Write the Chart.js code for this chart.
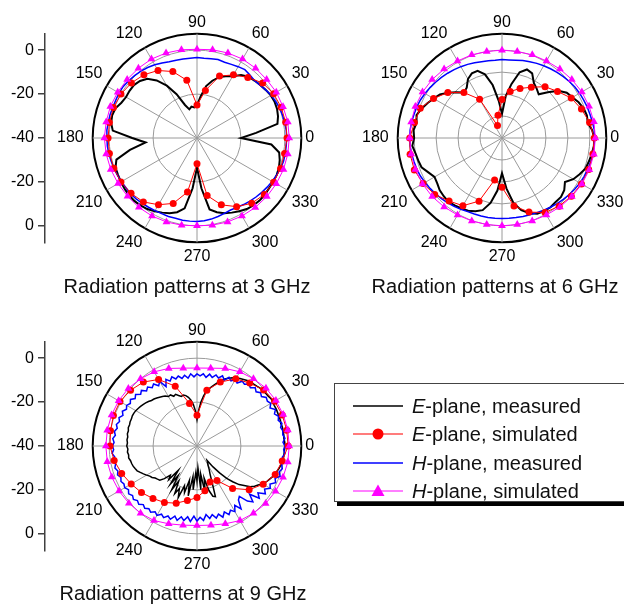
<!DOCTYPE html>
<html>
<head>
<meta charset="utf-8">
<script src="https://cdn.jsdelivr.net/npm/chart.js@4.4.1/dist/chart.umd.min.js"></script>
<style>
  body { margin: 0; background: #fff; }
  #page { position: relative; width: 624px; height: 605px; overflow: hidden; font-family: "Liberation Sans", Arial, sans-serif; }
  canvas { position: absolute; }
  .title { position: absolute; width: 300px; text-align: center; font-size: 20px; line-height: 24px; color: #111; }
  #legend { position: absolute; left: 334px; top: 383px; width: 310px; height: 117px; border: 1px solid #444; box-shadow: 3px 4px 0 #000; background: #fff; }
  .row { position: absolute; left: 17px; height: 24px; line-height: 24px; font-size: 20px; color: #111; white-space: nowrap; }
  .row svg { position: absolute; left: 0; top: 0; }
  .row span { position: absolute; left: 60px; top: 0; }
</style>
</head>
<body>
<div id="page">
  <canvas id="axis3" width="50" height="280"></canvas>
  <canvas id="axis9" width="50" height="280"></canvas>
  <canvas id="polar3" width="280" height="280"></canvas>
  <canvas id="polar6" width="280" height="280"></canvas>
  <canvas id="polar9" width="280" height="280"></canvas>
  <div class="title" style="left:37px;top:274px">Radiation patterns at 3 GHz</div>
  <div class="title" style="left:345px;top:274px">Radiation patterns at 6 GHz</div>
  <div class="title" style="left:33px;top:581px">Radiation patterns at 9 GHz</div>
  <div id="legend"></div>
</div>
<script>
// radial range in dB, rings and the left axis ticks
const R_MIN = -40;
const R_MAX = 7.5;
const RINGS_COARSE = [-40, -20, 0, 7.5];
const RINGS_FINE = [-40, -30, -20, -10, 0, 7.5];
const AXIS_TICKS = [-40, -20, 0, 20, 40];
const ANGLE_LABEL_STEP = 30;
const SIM_STEP = 10;

const SERIES_NAMES = ['E-plane, measured', 'E-plane, simulated', 'H-plane, measured', 'H-plane, simulated'];

// 3 GHz, measured every 5 deg (0..355), simulated every 10 deg (0..350)
const E_MEAS_3 = [-20, -13, -2.8, -1.8, -1.2, -1, -1.2, -1.8, -2.4, -3,
  -3.5, -5, -7.5, -9, -10.5, -13, -16, -21, -25, -26,
  -25.5, -26.5, -24, -18, -12.5, -8, -4.8, -3.3, -2.5, -2.5,
  -2.7, -2, -0.5, 0, -0.3, -1.5, -10.5, -16.5, -9, -2,
  -0.5, -0.3, 0, 0.3, 0.5, 0.5, 0, -0.5, -1.5, -2.5,
  -3.5, -5, -7.5, -17, -26.5, -17, -7, -5, -3.5, -2.5,
  -1.5, -0.5, 0, 0.3, 0.3, 0, 0, 0, -0.3, -1, -2, -6];
const E_SIM_3 = [1, 1, 0.8, 0.3, -1, -4, -6.8, -10, -18, -25,
  -13.3, -7.8, -4.5, -2.4, -1, 0, 0.5, 0.5, 0.5, 0.5,
  0.3, 0, -0.8, -2, -4.9, -8.3, -15, -28.3, -13.4, -7.6,
  -3.9, -1.2, 0, 0.3, 0.5, 0.5];
const H_MEAS_3 = [0.8, 0.8, 0.5, 0.3, 0, -0.5, -1, -1.8, -2.5, -3,
  -2.5, -2, -2.5, -3, -3.3, -3, -3.3, -3.5, -3.3, -3.5,
  -3.5, -3.3, -3, -2.3, -1.5, -0.8, -0.3, 0.2, 0.6, 1,
  1, 0.8, 0.8, 1, 1, 1.2, 1, 1, 0.8, 0.5,
  0.3, 0, -0.3, -0.5, -0.5, -0.8, -1.2, -1.5, -1.8, -2,
  -2, -2.2, -2, -2, -2, -2.2, -2.5, -3, -3.5, -3.8,
  -3.5, -3, -2.5, -2, -1.5, -1, -0.5, 0, 0.5, 0.8, 0.8, 0.8];
const H_SIM_3 = [2, 2, 1.7, 1.7, 1.4, 1.5, 1.5, 1.2, 0.8, 0.4,
  0.8, 1.2, 1.5, 1.5, 1.5, 1.7, 2, 2, 2.2, 2,
  1.8, 1.5, 1.3, 1.2, 1, 0.7, 0.3, 0, 0.3, 0.7,
  1, 1.3, 1.5, 1.7, 1.9, 2];

// 6 GHz
const E_MEAS_6 = [2, 1.2, -0.3, 0, -0.5, -1.5, -3, -4, -6.5, -10.5,
  -14, -12.5, -11, -7.5, -6.8, -9, -15, -21, -29, -23,
  -15.5, -10, -7.5, -7.5, -9, -12, -13, -10.5, -8, -5.5,
  -4, -2.5, -1, 0.3, -0.5, 0.5, 0, 1, 0, -0.5,
  -1, -3, -4.5, -4, -3, -2.5, -2, -2.5, -3, -3.5,
  -4.5, -6, -10, -16, -24, -17, -10, -6, -3.5, -2,
  -1.5, -1.5, -2, -2, -3, -5, -2.5, -1, 0.5, 1, 1.5, 2];
const E_SIM_6 = [2, 0.5, -1.5, -3.6, -7, -9.5, -13.3, -16, -18.5, -22.5,
  -29.5, -34, -19.6, -13, -7.8, -4, -0.4, 0.5, 2, 2.5,
  2.5, 1.5, 0, -2.5, -4.4, -9.4, -20.6, -17.6, -8.6, -4.1,
  -0.8, 0.5, 1.2, 1.8, 2, 2];
const H_MEAS_6 = [2, 2.2, 1.8, 1.5, 1.3, 1, 0.8, 0.5, 0, -0.5,
  -1, -1.5, -2, -2.5, -3, -3.5, -4, -4.3, -4.3, -4.5,
  -4.3, -4, -3.5, -3, -2.5, -2, -1.5, -1, -0.5, 0,
  0.5, 1, 1.3, 1.5, 1.8, 2, 2, 2, 1.8, 1.5,
  1.3, 1, 0.5, 0, -0.5, -1, -1.5, -2, -2.5, -3,
  -3.2, -3.2, -3.2, -3.3, -3.3, -3.3, -3.2, -3, -2.8, -2.5,
  -2, -1.5, -1, -0.5, 0, 0.5, 1, 1.3, 1.5, 1.8, 2, 2];
const H_SIM_6 = [2.5, 2.5, 2.2, 2, 1.5, 1, 0.5, 0.3, 0, 0,
  0, 0.3, 0.5, 1, 1.5, 1.8, 2, 2, 2, 2,
  2, 1.8, 1.5, 1, 0.5, 0.2, 0, 0, 0, 0.2,
  0.5, 1, 1.5, 2, 2.3, 2.5];

// 9 GHz, measured every 2.5 deg (0..357.5)
const E_MEAS_9 = [0, 0, -0.3, -0.2, -0.3, -0.2, -0.5, -0.3, -0.4, -0.3, -0.2, -0.3,
  -0.2, 0, -0.4, -0.6, -0.8, -1, -1.5, -1.8, -2, -2.4, -3, -3.6,
  -4.3, -5, -6, -7, -8.5, -10, -11.5, -13, -14.5, -17, -20, -24,
  -28, -24, -21, -19, -17.5, -16.5, -16, -16.3, -15.5, -14.5, -15, -13.8,
  -14, -13, -12.5, -12, -11.5, -11, -10.7, -10, -9.5, -9, -8.6, -8.2,
  -7.8, -7.6, -7.5, -7.7, -7.6, -7.8, -7.6, -8, -7.8, -8.2, -8, -8.3,
  -8, -8.5, -8.2, -8.6, -8.4, -9, -9.2, -9.5, -10, -10.5, -11.5, -12.5,
  -13.5, -14.5, -15, -16, -16.5, -17, -19, -22, -20, -26, -19, -24,
  -17, -22, -16, -19, -15, -21, -18, -24, -17, -26, -20, -28,
  -24, -30, -20, -27, -18, -25, -19, -16, -15.5, -22, -26, -28,
  -30, -31, -32, -28, -24, -20, -17, -14, -12, -9.5, -8, -7,
  -5.5, -4.5, -3.8, -3, -2.3, -1.8, -1.2, -0.8, -0.5, -0.3, -0.2, -0.1];
const E_SIM_9 = [1.5, 1.5, 1.3, 0.8, -0.4, -2.6, -4.7, -9, -14.2, -26,
  -20.3, -11, -5, -2, -0.5, 0.5, 0.5, 0, -0.4, -1.7,
  -3.5, -5.4, -7, -8.8, -10.3, -12.3, -14.8, -16.5, -19.3, -22.6,
  -21.8, -14.8, -9, -5.2, -2.1, -0.6];
const H_MEAS_9 = [0, -0.8, 0.2, -0.6, -0.3, -1, 0, -1.2, -0.5, -1.8, -0.6, -2.5,
  -1.2, -2, -1.5, -3, -2.2, -3.5, -2.5, -4, -3.2, -4.5, -4, -6,
  -5, -6.5, -5.5, -7.5, -6, -7.5, -6.5, -8, -6.8, -8.5, -7, -8,
  -7.2, -8.5, -7, -8.8, -7.3, -8.5, -7, -8, -6.5, -8, -6.5, -9.5,
  -6, -7.5, -5.5, -6.5, -5, -6, -4.2, -5.2, -3.5, -4.5, -3, -4,
  -3, -3.8, -2.5, -3.5, -2.2, -3, -2, -2.8, -1.8, -2.5, -1.5, -2.2,
  -1.5, -2, -1.2, -2.2, -1.5, -2, -1.3, -2.2, -1.5, -2.5, -1.8, -2.5,
  -2, -3, -2, -3, -2.2, -3.2, -2.5, -3.8, -3, -4, -3.2, -4.5,
  -3.5, -5, -4, -5.5, -4.5, -6.5, -5, -7, -5.5, -7.5, -5.5, -8,
  -5.8, -7.5, -6, -8.5, -6.5, -8, -6, -7.5, -5.5, -7.5, -5.5, -7,
  -5.5, -8, -5, -9, -10, -6, -4, -7.5, -3, -5, -2, -3.5,
  -1.5, -2.5, -0.5, -1.5, 0.3, -0.8, 0.2, -0.5, 0, -0.8, 0.2, -0.5];
const H_SIM_9 = [2, 2, 1.8, 1.5, 1, 0, -1, -2.4, -4, -4.5,
  -4, -2.4, -1, 0, 0.8, 1.2, 1.4, 1.5, 1.5, 1.5,
  1.3, 1, 0.5, 0, -0.8, -2.3, -3.4, -3.8, -3.4, -2.3,
  -0.8, 0, 0.8, 1.3, 1.7, 2];

const FONT = 'Liberation Sans, Arial, sans-serif';
const COLORS = ['#000000', '#ff0000', '#0000ff', '#ff00ff'];
const GRID = '#9a9a9a';

function buildPolar(id, step, eMeas, eSim, hMeas, hSim, rings, blackWidth) {
    const labels = [];
    for (let i = 0; i < 360 / step; i++) labels.push((450 - i * step) % 360);
    const meas = arr => labels.map(a => arr[Math.round(a / step)]);
    const sim = arr => labels.map(a => (a % SIM_STEP === 0 ? arr[a / SIM_STEP] : null));

    return new Chart(document.getElementById(id), {
        type: 'radar',
        data: {
            labels: labels,
            datasets: [
                { label: SERIES_NAMES[0], data: meas(eMeas), borderColor: COLORS[0], borderWidth: blackWidth, pointRadius: 0, fill: false, order: 4 },
                { label: SERIES_NAMES[1], data: sim(eSim), borderColor: COLORS[1], borderWidth: 1, pointRadius: 3.5,
                  pointBackgroundColor: COLORS[1], pointBorderWidth: 0, spanGaps: true, fill: false, order: 2 },
                { label: SERIES_NAMES[2], data: meas(hMeas), borderColor: COLORS[2], borderWidth: 1.5, pointRadius: 0, fill: false, order: 3 },
                { label: SERIES_NAMES[3], data: sim(hSim), borderColor: COLORS[3], borderWidth: 1, pointRadius: 4.5, pointStyle: 'triangle',
                  pointBackgroundColor: COLORS[3], pointBorderWidth: 0, spanGaps: true, fill: false, order: 1 }
            ]
        },
        options: {
            responsive: false,
            animation: false,
            devicePixelRatio: 1,
            layout: { padding: 0 },
            elements: { line: { tension: 0 } },
            plugins: { legend: { display: false }, tooltip: { enabled: false } },
            scales: {
                r: {
                    min: R_MIN,
                    max: R_MAX,
                    afterBuildTicks: s => { s.ticks = rings.map(v => ({ value: v })); },
                    ticks: { display: false },
                    grid: {
                        circular: true,
                        color: c => (c.tick && c.tick.value === R_MAX ? '#000' : GRID),
                        lineWidth: c => (c.tick && c.tick.value === R_MAX ? 2 : 1)
                    },
                    angleLines: {
                        color: c => (c.label !== '' ? GRID : 'rgba(0,0,0,0)'),
                        lineWidth: c => (c.label !== '' ? 1 : 0)
                    },
                    pointLabels: {
                        callback: v => (v % ANGLE_LABEL_STEP === 0 ? String(v) : ''),
                        font: { family: FONT, size: 16 },
                        color: '#000',
                        padding: c => (c.label === '90' ? 2 : c.label === '180' ? 9 : c.label === '0' ? 4 : 5)
                    }
                }
            }
        }
    });
}

function buildAxis(id, radius) {
    return new Chart(document.getElementById(id), {
        type: 'scatter',
        data: { datasets: [] },
        options: {
            responsive: false,
            animation: false,
            devicePixelRatio: 1,
            layout: { padding: { top: 140 - radius, bottom: 140 - radius, left: 0, right: 0 } },
            plugins: { legend: { display: false }, tooltip: { enabled: false } },
            scales: {
                x: { display: false, min: 0, max: 1 },
                y: {
                    min: -(R_MAX - R_MIN),
                    max: R_MAX - R_MIN,
                    afterBuildTicks: s => { s.ticks = AXIS_TICKS.map(v => ({ value: v })); },
                    afterFit: s => { s.width = 45; },
                    ticks: { callback: v => String(Math.abs(v) + R_MIN), font: { family: FONT, size: 16 }, color: '#000', padding: 4 },
                    grid: { drawOnChartArea: false, tickLength: 7, color: '#404040', lineWidth: 1.5 },
                    border: { color: '#404040', width: 1.5 }
                }
            }
        }
    });
}

// place a polar chart so its centre lands on (cx, cy)
function place(chart, cx, cy) {
    const r = chart.scales.r;
    chart.canvas.style.left = (cx - r.xCenter) + 'px';
    chart.canvas.style.top = (cy - r.yCenter) + 'px';
    return r;
}

const p3 = buildPolar('polar3', 5, E_MEAS_3, E_SIM_3, H_MEAS_3, H_SIM_3, RINGS_COARSE, 2);
const p6 = buildPolar('polar6', 5, E_MEAS_6, E_SIM_6, H_MEAS_6, H_SIM_6, RINGS_FINE, 2);
const p9 = buildPolar('polar9', 2.5, E_MEAS_9, E_SIM_9, H_MEAS_9, H_SIM_9, RINGS_COARSE, 1.5);
const r3 = place(p3, 197, 138);
place(p6, 502, 138);
const r9 = place(p9, 197, 446);

const a3 = document.getElementById('axis3');
a3.style.left = '0px'; a3.style.top = (138 - 140) + 'px';
buildAxis('axis3', r3.drawingArea);
const a9 = document.getElementById('axis9');
a9.style.left = '0px'; a9.style.top = (446 - 140) + 'px';
buildAxis('axis9', r9.drawingArea);

// legend
const legend = document.getElementById('legend');
SERIES_NAMES.forEach((name, i) => {
    const row = document.createElement('div');
    row.className = 'row';
    row.style.top = (10 + i * 28.3) + 'px';
    let marker = '';
    if (i === 1) marker = '<circle cx="26" cy="12" r="5.5" fill="' + COLORS[1] + '"/>';
    if (i === 3) marker = '<polygon points="26,5.5 32.5,17 19.5,17" fill="' + COLORS[3] + '"/>';
    const lineColor = i === 1 ? '#ff5050' : i === 3 ? '#ff55ff' : COLORS[i];
    row.innerHTML = '<svg width="52" height="24"><line x1="1" y1="12" x2="51" y2="12" stroke="' + lineColor +
        '" stroke-width="1.5"/>' + marker + '</svg><span><i>' + name[0] + '</i>' + name.slice(1) + '</span>';
    legend.appendChild(row);
});
</script>
</body>
</html>
